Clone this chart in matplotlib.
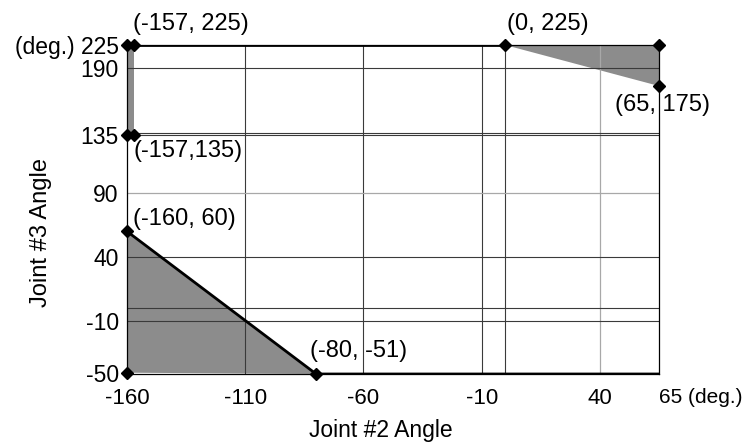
import numpy as np
import matplotlib
matplotlib.use("Agg")
import matplotlib.pyplot as plt

plt.rcParams["font.family"] = ["Liberation Sans", "DejaVu Sans"]
plt.rcParams["font.size"] = 16

# Joint #2 / Joint #3 limits (deg.)
strip_x = [-160, -157, -157, -160]
strip_y = [135, 135, 225, 225]
top_tri_x = [0, 65, 65]
top_tri_y = [225, 225, 175]
low_tri_x = [-160, -160, -80]
low_tri_y = [60, -50, -51]

# thick boundary segments
edge_top_x = [-157, 0]
edge_top_y = [225, 225]
edge_low_x = [-160, -80, 65]
edge_low_y = [60, -51, -51]

# corner markers
corner_x = [-160, -157, -160, -157, 0, 65, 65, -160, -160, -80]
corner_y = [225, 225, 135, 135, 225, 225, 175, 60, -50, -51]

# labelled points
label_pts = [(-157, 225), (-157, 135), (0, 225), (65, 175), (-160, 60), (-80, -51)]
label_txt = ["(-157, 225)", "(-157,135)", "(0, 225)", "(65, 175)", "(-160, 60)", "(-80, -51)"]
label_off = [(-1, 21), (-1, -16), (2, 21), (-44, -19), (6, 12), (-6, 23)]

xticks = [-160, -110, -60, -10, 40, 65]
xticklabels = ["-160", "-110", "-60", "-10", "40", "65 (deg.)"]
yticks = [-50, -10, 40, 90, 135, 190, 225]
yticklabels = ["-50", "-10", "40", "90", "135", "190", "(deg.) 225"]

grid_x_dark = [-110, -60, -10, 0]
grid_x_light = [40]
grid_y_dark = [-10, 0, 40, 135, 137, 190]
grid_y_light = [90]

# the drawing is schematic: the vertical axis is not uniform
y_knots = [-51, 135, 190, 225]
y_pos = [0, 239, 306, 329]


def piecewise(v, src, dst):
    v = np.asarray(v, dtype=float)
    out = np.interp(v, src, dst)
    lo = (dst[1] - dst[0]) / (src[1] - src[0])
    hi = (dst[-1] - dst[-2]) / (src[-1] - src[-2])
    out = np.where(v < src[0], dst[0] + (v - src[0]) * lo, out)
    out = np.where(v > src[-1], dst[-1] + (v - src[-1]) * hi, out)
    return out


fig = plt.figure(figsize=(7.43, 4.46), dpi=100)
ax = fig.add_axes([127 / 743, 72 / 446, 532 / 743, 329 / 446])
ax.set_yscale("function", functions=(lambda v: piecewise(v, y_knots, y_pos),
                                     lambda v: piecewise(v, y_pos, y_knots)))
ax.set_xlim(-160, 65)
ax.set_ylim(-51, 225)

fill_col = "#8c8c8c"
ax.fill(strip_x, strip_y, color=fill_col, lw=0, zorder=1)
ax.fill(top_tri_x, top_tri_y, color=fill_col, lw=0, zorder=1)
ax.fill(low_tri_x, low_tri_y, color=fill_col, lw=0, zorder=1)

for x in grid_x_dark:
    ax.axvline(x, color="#3a3a3a", lw=0.8, zorder=2)
for x in grid_x_light:
    ax.axvline(x, color="#a8a8a8", lw=0.9, zorder=2)
for y in grid_y_dark:
    ax.axhline(y, color="#3a3a3a", lw=0.8, zorder=2)
for y in grid_y_light:
    ax.axhline(y, color="#a8a8a8", lw=0.9, zorder=2)

ax.plot(edge_top_x, edge_top_y, color="black", lw=2, zorder=3, solid_capstyle="butt")
ax.plot(edge_low_x, edge_low_y, color="black", lw=2, zorder=3, solid_capstyle="butt")
ax.plot(corner_x, corner_y, ls="none", marker="D", ms=6, color="black",
        zorder=4, clip_on=False)

for (px, py), txt, (dx, dy) in zip(label_pts, label_txt, label_off):
    ax.annotate(txt, (px, py), xytext=(dx, dy), textcoords="offset pixels",
                ha="left", va="center", fontsize=17)

for s in ["left", "right", "bottom", "top"]:
    ax.spines[s].set_color("black")
    ax.spines[s].set_linewidth(0.9)

ax.set_xticks(xticks)
ax.set_xticklabels(xticklabels, fontsize=16)
ax.set_yticks(yticks)
ax.set_yticklabels(yticklabels, fontsize=16.5)
ax.minorticks_off()
ax.tick_params(axis="both", length=0)
ax.tick_params(axis="x", pad=10)
ax.tick_params(axis="y", pad=6)
last = ax.get_xticklabels()[-1]
last.set_ha("left")
last.set_fontsize(15)

ax.set_xlabel("Joint #2 Angle", fontsize=16.5)
ax.xaxis.set_label_coords(0.477, -0.138)
ax.set_ylabel("Joint #3 Angle", fontsize=17)
ax.yaxis.set_label_coords(-0.141, 0.429)

fig.savefig("out.png", dpi=100)
